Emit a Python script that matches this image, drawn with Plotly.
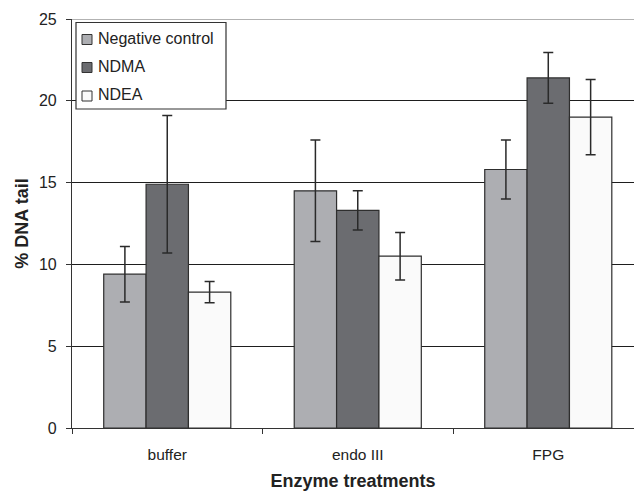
import plotly.graph_objects as go

categories = ["buffer", "endo III", "FPG"]
series_names = ["Negative control", "NDMA", "NDEA"]
neg_control = [9.4, 14.5, 15.8]
neg_control_err = [1.7, 3.1, 1.8]
ndma = [14.9, 13.3, 21.4]
ndma_err = [4.2, 1.2, 1.55]
ndea = [8.3, 10.5, 19.0]
ndea_err = [0.65, 1.45, 2.3]
y_ticks = [0, 5, 10, 15, 20, 25]

colors = ["#adaeb2", "#6b6c70", "#fafafa"]
values = [neg_control, ndma, ndea]
errs = [neg_control_err, ndma_err, ndea_err]

FONT = "Liberation Sans, Arial, sans-serif"

W, H = 634, 494
ML, MR, MT, MB = 72, 0, 19, 66
PW, PH = W - ML - MR, H - MT - MB


def px(x):
    return (x - ML) / PW


def py(y):
    return (H - MB - y) / PH


fig = go.Figure()
for i, (name, v, e, c) in enumerate(zip(series_names, values, errs, colors)):
    fig.add_trace(go.Bar(
        x=categories, y=v, name=name, showlegend=False,
        marker=dict(color=c, line=dict(color="#2e2e2e", width=1.2)),
        error_y=dict(type="data", array=e, visible=True, color="#2a2a2a",
                     thickness=1.5, width=5),
    ))

# custom legend box (layout decoration)
shapes = [
    dict(type="line", xref="paper", yref="y", x0=0, x1=1, y0=25, y1=25,
         line=dict(color="#999999", width=1.5), layer="above"),
    dict(type="rect", xref="paper", yref="paper",
         x0=px(76), x1=px(226), y0=py(109), y1=py(22.5),
         fillcolor="white", line=dict(color="#333", width=1.2), layer="above"),
]
annotations = []
item_centers = [39.5, 67.5, 96]
for name, c, yc in zip(series_names, colors, item_centers):
    shapes.append(dict(type="rect", xref="paper", yref="paper",
                       x0=px(82), x1=px(92), y0=py(yc + 5), y1=py(yc - 5),
                       fillcolor=c, line=dict(color="#333", width=1), layer="above"))
    annotations.append(dict(text=name, xref="paper", yref="paper",
                            x=px(96), y=py(yc - 1), xanchor="left", yanchor="middle",
                            showarrow=False,
                            font=dict(family=FONT, size=16, color="#222")))

fig.update_layout(
    width=W, height=H,
    margin=dict(l=ML, r=MR, t=MT, b=MB),
    paper_bgcolor="white", plot_bgcolor="white",
    barmode="group", bargap=0.333, bargroupgap=0,
    font=dict(family=FONT, size=15, color="#222"),
    showlegend=False,
    xaxis=dict(
        range=[-0.5, 2.45], showgrid=False,
        showline=True, linecolor="#333", linewidth=1.2,
        ticks="outside", tickson="boundaries", ticklen=5, tickcolor="#333",
        tickfont=dict(size=15.5, color="#222"), ticklabelstandoff=12,
        title=dict(text="<b>Enzyme treatments</b>", font=dict(size=18, color="#222"), standoff=12),
    ),
    yaxis=dict(
        range=[0, 25], tickvals=y_ticks,
        showgrid=True, gridcolor="#1e1e1e", gridwidth=1.2,
        showline=True, linecolor="#333", linewidth=1.2,
        ticks="outside", ticklen=5, tickcolor="#333",
        tickfont=dict(size=16, color="#222"), ticklabelstandoff=6,
        zeroline=False,
        title=dict(text="<b>% DNA tail</b>", font=dict(size=18, color="#222"), standoff=5),
    ),
    shapes=shapes,
    annotations=annotations,
)

fig.write_html("out.html")
